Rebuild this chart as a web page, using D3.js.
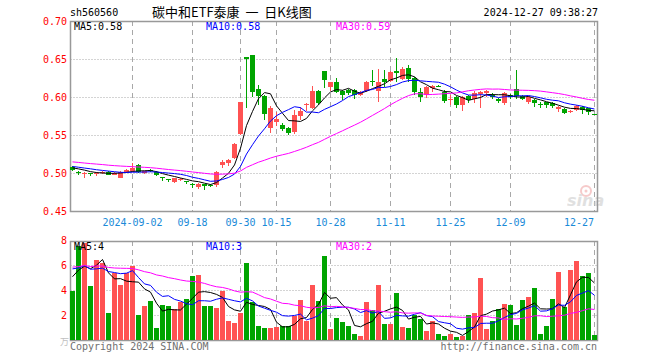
<!DOCTYPE html>
<html>
<head>
<meta charset="utf-8">
<script src="https://cdn.jsdelivr.net/npm/d3@7"></script>
<style>
  body { margin: 0; background: #fff; }
  text { font-family: "DejaVu Sans Mono", monospace; font-size: 10px; white-space: pre; }
</style>
</head>
<body>
<div id="chart"></div>
<script>
// trading days, 2024
const dates = [
  "08-19","08-20","08-21","08-22","08-23","08-26","08-27","08-28","08-29","08-30",
  "09-02","09-03","09-04","09-05","09-06","09-09","09-10","09-11","09-12","09-13",
  "09-18","09-19","09-20","09-23","09-24","09-25","09-26","09-27","09-30","10-08",
  "10-09","10-10","10-11","10-14","10-15","10-16","10-17","10-18","10-21","10-22",
  "10-23","10-24","10-25","10-28","10-29","10-30","10-31","11-01","11-04","11-05",
  "11-06","11-07","11-08","11-11","11-12","11-13","11-14","11-15","11-18","11-19",
  "11-20","11-21","11-22","11-25","11-26","11-27","11-28","11-29","12-02","12-03",
  "12-04","12-05","12-06","12-09","12-10","12-11","12-12","12-13","12-16","12-17",
  "12-18","12-19","12-20","12-23","12-24","12-25","12-26","12-27"
];
const open = [
  .508,.501,.499,.500,.499,.500,.501,.498,.494,.501,
  .502,.511,.500,.504,.501,.495,.492,.488,.491,.489,
  .485,.482,.485,.484,.484,.510,.513,.520,.551,.652,
  .655,.610,.601,.559,.567,.563,.559,.554,.575,.589,
  .585,.608,.634,.613,.620,.608,.609,.609,.603,.608,
  .621,.608,.624,.621,.634,.624,.638,.625,.607,.603,
  .612,.615,.607,.597,.600,.589,.601,.597,.604,.605,
  .603,.598,.592,.602,.611,.601,.593,.596,.591,.593,
  .592,.584,.584,.581,.583,.587,.585,.577
];
const high = [
  .509,.502,.501,.500,.501,.502,.502,.501,.502,.505,
  .513,.512,.503,.505,.502,.495,.492,.494,.493,.489,
  .487,.487,.486,.485,.502,.517,.518,.540,.594,.653,
  .655,.616,.602,.588,.580,.566,.560,.583,.587,.592,
  .614,.609,.634,.620,.625,.609,.611,.610,.608,.621,
  .636,.637,.635,.634,.651,.639,.642,.626,.612,.614,
  .616,.616,.609,.602,.601,.601,.602,.608,.608,.609,
  .605,.599,.606,.604,.635,.602,.601,.597,.593,.594,
  .593,.588,.585,.583,.589,.588,.586,.577
];
const low = [
  .503,.497,.494,.496,.496,.499,.497,.497,.493,.500,
  .501,.500,.499,.501,.496,.489,.488,.487,.489,.486,
  .480,.479,.478,.481,.481,.506,.509,.519,.550,.585,
  .600,.589,.570,.553,.562,.555,.550,.551,.570,.582,
  .584,.590,.612,.608,.605,.596,.603,.597,.601,.607,
  .614,.593,.613,.620,.620,.622,.620,.603,.593,.599,
  .607,.613,.592,.589,.586,.582,.592,.592,.586,.600,
  .597,.592,.589,.597,.598,.596,.591,.587,.586,.586,
  .585,.580,.578,.579,.582,.578,.576,.576
];
const close = [
  .504,.500,.500,.499,.500,.501,.498,.500,.501,.504,
  .507,.501,.502,.502,.497,.494,.491,.493,.492,.488,
  .484,.486,.483,.483,.501,.514,.517,.538,.593,.650,
  .607,.601,.578,.585,.571,.558,.553,.576,.581,.591,
  .608,.592,.622,.620,.607,.603,.605,.603,.607,.620,
  .620,.620,.620,.633,.632,.637,.624,.607,.600,.613,
  .614,.614,.595,.598,.589,.600,.596,.605,.607,.608,
  .600,.595,.605,.600,.601,.598,.600,.592,.590,.589,
  .588,.587,.579,.582,.588,.583,.580,.576
];
// volume, 万
const volume = [
  3.92,7.5,7.8,4.3,6.4,6.2,2.15,5.4,4.4,5.4,
  5.95,2.0,2.7,3.1,0.96,2.8,2.7,2.5,3.05,3.3,
  5.1,5.2,2.7,2.7,2.55,3.9,1.55,1.35,2.15,6.15,
  3.05,1.1,0.96,0.96,1.07,1.15,1.15,1.92,3.2,1.55,
  4.4,3.15,6.7,0.9,1.8,1.47,1.15,0.5,0.35,3.07,
  2.4,4.4,1.28,1.28,3.8,1.07,0.93,2.0,1.65,0.72,
  1.55,0.48,0.32,0.48,0.24,0.32,2.0,2.2,4.95,0.88,
  1.55,2.48,2.88,2.8,1.2,3.2,3.44,4.15,0.48,1.12,
  3.28,5.44,2.64,5.6,6.3,5.12,5.36,0.4
];
// the 29 sessions before the window, only feed the moving averages
const earlierClose = [
  .522,.524,.521,.519,.520,.523,.518,.516,.517,.519,
  .515,.514,.516,.518,.520,.517,.515,.513,.514,.512,
  .510,.511,.509,.512,.510,.507,.508,.509,.506
];
const earlierVolume = [
  6.2,5.1,7.0,4.8,6.5,5.5,6.8,4.9,5.7,6.3,
  5.2,7.1,5.9,6.0,5.4,6.6,5.0,6.2,5.8,6.0,
  6.8,5.9,7.2,6.1,5.6,4.9,6.2,5.3,5.0
];
const tickDates = ["09-02","09-18","09-30","10-15","10-28","11-11","11-25","12-09","12-27"];
const tickLabels = ["2024-09-02","09-18","09-30","10-15","10-28","11-11","11-25","12-09","12-27"];
const priceTicks = [0.45, 0.50, 0.55, 0.60, 0.65, 0.70];
const volTicks = [2, 4, 6, 8];

const RED = "#ff5252", GREEN = "#00a400", GRID = "#a8a8a8", FRAME = "#999";
const maColors = { 5: "#000", 10: "#0000ff", 30: "#ff00ff" };

function movingAvg(prev, vals, n) {
  const all = prev.concat(vals);
  return vals.map((v, i) => d3.mean(all.slice(i + prev.length - n + 1, i + prev.length + 1)));
}
const floor2 = v => (Math.floor(v * 100) / 100).toFixed(2);

const svg = d3.select("#chart").append("svg")
  .attr("width", 660).attr("height", 360);

const x = d3.scalePoint().domain(dates).range([72, 594]);
const y = d3.scaleLinear().domain([0.45, 0.70]).range([211, 21]);
const yv = d3.scaleLinear().domain([0, 8]).range([340, 240]);
const L = 70.5, R = 597.5;

// header
svg.append("text").attr("x", 70).attr("y", 16).text("sh560560");
svg.append("text").attr("x", 152).attr("y", 17)
  .style("font-family", "'Noto Sans CJK SC'").style("font-size", "13px")
  .text("碳中和ETF泰康  一  日K线图");
svg.append("text").attr("x", 598).attr("y", 16).attr("text-anchor", "end")
  .text("2024-12-27 09:38:27");

// grids
function grid(g, yScale, hTicks, top, bottom) {
  g.selectAll(".h").data(hTicks).enter().append("line")
    .attr("x1", L).attr("x2", R)
    .attr("y1", d => Math.round(yScale(d)) + 0.5).attr("y2", d => Math.round(yScale(d)) + 0.5)
    .attr("stroke", GRID).attr("stroke-dasharray", "1,2");
  g.selectAll(".v").data(tickDates).enter().append("line")
    .attr("x1", d => x(d) + 0.5).attr("x2", d => x(d) + 0.5)
    .attr("y1", top).attr("y2", bottom)
    .attr("stroke", GRID).attr("stroke-dasharray", "5,4");
}
grid(svg.append("g"), y, [0.50, 0.55, 0.60, 0.65], 21, 211);
grid(svg.append("g"), yv, [2, 4, 6], 241, 340);

// sina watermark
const wm = svg.append("g").attr("opacity", 0.55);
wm.append("circle").attr("cx", 586).attr("cy", 191).attr("r", 5).attr("fill", "none")
  .attr("stroke", "#f0a0a0").attr("stroke-width", 2);
wm.append("circle").attr("cx", 586).attr("cy", 191).attr("r", 1.5).attr("fill", "#f0a0a0");
wm.append("text").attr("x", 567).attr("y", 206)
  .style("font-family", "'DejaVu Sans'").style("font-size", "16px")
  .style("font-weight", "bold").style("font-style", "italic")
  .attr("fill", "#c8c8c8").text("sina");

// frames
[[21, 211], [241, 340]].forEach(([t, b]) => {
  svg.append("rect").attr("x", L).attr("y", t + 0.5).attr("width", R - L).attr("height", b - t)
    .attr("fill", "none").attr("stroke", FRAME).attr("stroke-width", 1.5);
});

// axis labels
svg.selectAll(".py").data(priceTicks).enter().append("text")
  .attr("x", 67).attr("y", d => y(d) + 4).attr("text-anchor", "end")
  .attr("fill", "#f00").text(d => d.toFixed(2));
svg.selectAll(".vy").data(volTicks).enter().append("text")
  .attr("x", 67).attr("y", d => yv(d) + 4).attr("text-anchor", "end")
  .attr("fill", "#f00").text(d => d);
svg.append("text").attr("x", 60).attr("y", 345)
  .style("font-family", "'Noto Sans CJK SC'").style("font-size", "9px")
  .attr("fill", "#c0c0c0").text("万");
svg.selectAll(".xl").data(tickDates).enter().append("text")
  .attr("x", (d, i) => i === tickDates.length - 1 ? 594 : x(d) + 0.5)
  .attr("y", 226)
  .attr("text-anchor", (d, i) => i === tickDates.length - 1 ? "end" : "middle")
  .attr("fill", "#1a8ad8").text((d, i) => tickLabels[i]);

// candles
const idx = d3.range(dates.length);
const up = i => close[i] >= open[i];
const candles = svg.append("g").attr("shape-rendering", "crispEdges");
candles.selectAll(".wick").data(idx).enter().append("line")
  .attr("x1", i => x(dates[i]) + 0.5).attr("x2", i => x(dates[i]) + 0.5)
  .attr("y1", i => y(high[i])).attr("y2", i => y(low[i]))
  .attr("stroke", i => up(i) ? RED : GREEN);
candles.selectAll(".body").data(idx).enter().append("rect")
  .attr("x", i => x(dates[i]) - 2).attr("width", 5)
  .attr("y", i => y(Math.max(open[i], close[i])))
  .attr("height", i => Math.max(1, Math.abs(y(open[i]) - y(close[i]))))
  .attr("fill", i => up(i) ? RED : GREEN);

// volume bars
svg.append("g").attr("shape-rendering", "crispEdges")
  .selectAll("rect").data(idx).enter().append("rect")
  .attr("x", i => x(dates[i]) - 2).attr("width", 5)
  .attr("y", i => yv(volume[i])).attr("height", i => 340 - yv(volume[i]))
  .attr("fill", i => up(i) ? RED : GREEN);

// moving averages
const labelX = { 5: 74, 10: 206, 30: 336 };
[5, 10, 30].forEach(n => {
  const pm = movingAvg(earlierClose, close, n);
  const vm = movingAvg(earlierVolume, volume, n);
  svg.append("path").datum(pm)
    .attr("d", d3.line().x((d, i) => x(dates[i]) + 0.5).y(d => y(d)))
    .attr("fill", "none").attr("stroke", maColors[n]).attr("stroke-width", 1);
  svg.append("path").datum(vm)
    .attr("d", d3.line().x((d, i) => x(dates[i]) + 0.5).y(d => yv(d)))
    .attr("fill", "none").attr("stroke", maColors[n]).attr("stroke-width", 1);
  svg.append("text").attr("x", labelX[n]).attr("y", 30).attr("fill", maColors[n])
    .text("MA" + n + ":" + floor2(pm[pm.length - 1]));
  svg.append("text").attr("x", labelX[n]).attr("y", 250).attr("fill", maColors[n])
    .text("MA" + n + ":" + Math.floor(vm[vm.length - 1]));
});

// footer
svg.append("text").attr("x", 70).attr("y", 350).attr("fill", "#707070")
  .text("Copyright 2024 SINA.COM");
svg.append("text").attr("x", 597).attr("y", 350).attr("text-anchor", "end").attr("fill", "#707070")
  .text("http://finance.sina.com.cn");
</script>
</body>
</html>
